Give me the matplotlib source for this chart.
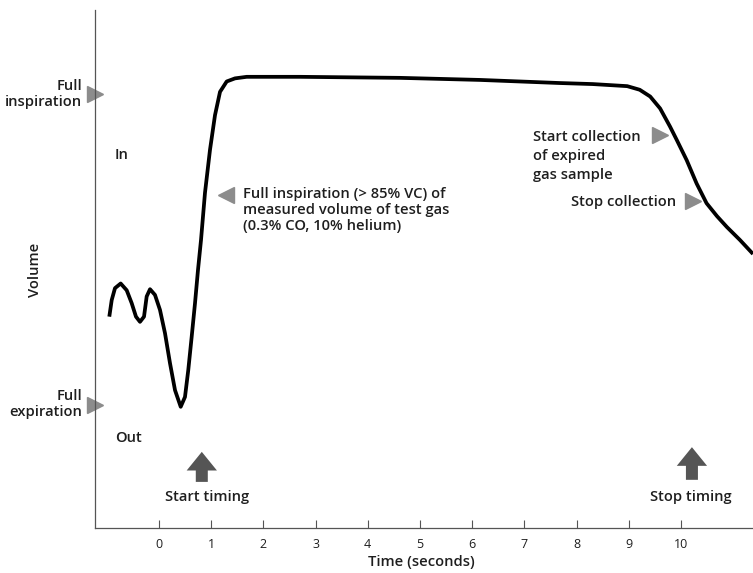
import matplotlib
matplotlib.use("Agg")
import matplotlib.pyplot as plt

# spirogram trace, time in seconds, volume in arbitrary units (0-10)
time_s = [-0.952, -0.906, -0.843, -0.734, -0.619, -0.523, -0.441, -0.364, -0.287,
          -0.236, -0.172, -0.077, 0.019, 0.115, 0.211, 0.307, 0.416, 0.498, 0.561,
          0.626, 0.690, 0.747, 0.805, 0.881, 0.977, 1.073, 1.169, 1.297, 1.456, 1.680,
          2.70, 4.62, 6.15, 7.68, 8.31, 8.97, 9.21, 9.41, 9.60, 9.79, 9.92, 10.11,
          10.30, 10.49, 10.69, 10.88, 11.13, 11.38]
volume = [4.08, 4.40, 4.63, 4.72, 4.59, 4.34, 4.08, 3.98, 4.08,
          4.47, 4.61, 4.50, 4.21, 3.76, 3.18, 2.66, 2.34, 2.53, 3.05,
          3.69, 4.34, 4.98, 5.56, 6.47, 7.30, 7.97, 8.42, 8.62, 8.68, 8.71,
          8.71, 8.69, 8.65, 8.59, 8.57, 8.53, 8.46, 8.33, 8.10, 7.75, 7.49, 7.10,
          6.65, 6.27, 6.02, 5.81, 5.56, 5.29]
tick_values = list(range(0, 11))

FONT = "Open Sans"
GREY_TRI = "#8c8c8c"
GREY_ARROW = "#555555"
TXT = "#1e1e1e"

fig = plt.figure(figsize=(7.53, 5.73), dpi=100)
ax = fig.add_axes([95/753, 45/573, 658/753, 518/573])
ax.plot(time_s, volume, color="black", lw=2.7, solid_capstyle="butt", solid_joinstyle="round")

ax.set_xlim(-1.226, 11.38)
ax.set_ylim(0, 10)
for s in ["top", "right"]:
    ax.spines[s].set_visible(False)
for s in ["left", "bottom"]:
    ax.spines[s].set_color("#555555")
    ax.spines[s].set_linewidth(0.9)
ax.set_yticks([])
ax.set_xticks(tick_values)
ax.set_xticklabels([str(t) for t in tick_values], fontfamily=FONT, fontsize=9, color=TXT)
ax.tick_params(axis="x", direction="in", length=6, width=0.8, color="#555555", pad=7)

# grey markers
tri = dict(color=GREY_TRI, markersize=11, clip_on=False, linestyle="none")
ax.plot([-1.226], [8.37], marker=">", **tri)
ax.plot([-1.226], [2.37], marker=">", **tri)
ax.plot([1.284], [6.43], marker="<", **tri)
ax.plot([9.60], [7.58], marker=">", **tri)
ax.plot([10.23], [6.32], marker=">", **tri)

# timing arrows
arr = dict(width=0.23, head_width=0.58, head_length=0.36, length_includes_head=True,
           color=GREY_ARROW, lw=0)
ax.arrow(0.82, 0.89, 0, 0.58, **arr)
ax.arrow(10.21, 0.93, 0, 0.63, **arr)

tk = dict(fontfamily=FONT, fontweight="semibold", fontsize=10.6, color=TXT)
fig.text(82/753, 1 - 94/573, "Full\ninspiration", ha="right", va="center", linespacing=1.25, **tk)
fig.text(82/753, 1 - 404/573, "Full\nexpiration", ha="right", va="center", linespacing=1.25, **tk)
fig.text(115/753, 1 - 155/573, "In", ha="left", va="center", **tk)
fig.text(115/753, 1 - 438/573, "Out", ha="left", va="center", **tk)
fig.text(243/753, 1 - 210/573, "Full inspiration (> 85% VC) of\nmeasured volume of test gas\n(0.3% CO, 10% helium)",
         ha="left", va="center", linespacing=1.15, **tk)
fig.text(533/753, 1 - 156/573, "Start collection\nof expired\ngas sample",
         ha="left", va="center", linespacing=1.45, **tk)
fig.text(676/753, 1 - 202/573, "Stop collection", ha="right", va="center", **tk)
fig.text(207/753, 1 - 497/573, "Start timing", ha="center", va="center", **tk)
fig.text(691/753, 1 - 497/573, "Stop timing", ha="center", va="center", **tk)
fig.text(421/753, 1 - 562/573, "Time (seconds)", ha="center", va="center", **tk)
fig.text(35/753, 1 - 270/573, "Volume", ha="center", va="center", rotation=90, **tk)

fig.savefig("out.png", dpi=100)
